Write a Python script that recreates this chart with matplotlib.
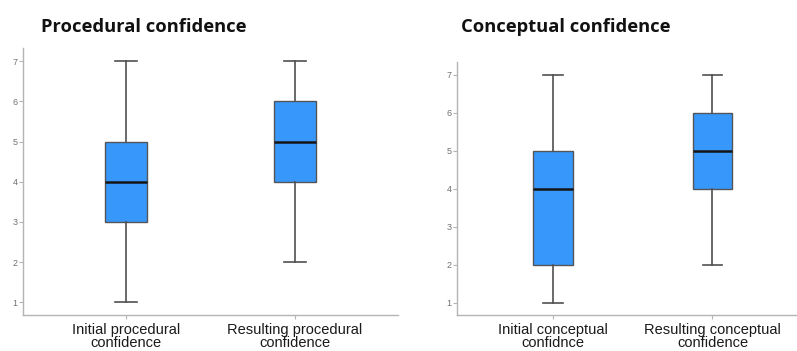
import matplotlib

matplotlib.use("Agg")
import matplotlib.pyplot as plt

# five-number summaries: whisker low, q1, median, q3, whisker high
proc_labels = ["Initial procedural\nconfidence", "Resulting procedural\nconfidence"]
proc_low = [1, 2]
proc_q1 = [3, 4]
proc_med = [4, 5]
proc_q3 = [5, 6]
proc_high = [7, 7]

conc_labels = ["Initial conceptual\nconfidnce", "Resulting conceptual\nconfidence"]
conc_low = [1, 2]
conc_q1 = [2, 4]
conc_med = [4, 5]
conc_q3 = [5, 6]
conc_high = [7, 7]

yticks = [1, 2, 3, 4, 5, 6, 7]

BOX_COLOR = "#3797fb"
AXIS_GRAY = "#b4b4b4"
TEXT_GRAY = "#707070"

W, H = 797, 351


def _stats(low, q1, med, q3, high):
    return [
        {"whislo": a, "q1": b, "med": c, "q3": d, "whishi": e, "fliers": []}
        for a, b, c, d, e in zip(low, q1, med, q3, high)
    ]


def _panel(fig, rect_px, xlim, stats, labels, title, title_xy):
    left, top, right, bottom = rect_px
    ax = fig.add_axes([left / W, 1 - bottom / H, (right - left) / W, (bottom - top) / H])
    ax.bxp(
        stats,
        positions=[1, 2],
        widths=0.25,
        patch_artist=True,
        showfliers=False,
        boxprops=dict(facecolor=BOX_COLOR, edgecolor="#555555", linewidth=1.0),
        medianprops=dict(color="#151515", linewidth=1.8),
        whiskerprops=dict(color="#505050", linewidth=1.2),
        capprops=dict(color="#505050", linewidth=1.2),
        capwidths=0.125,
    )
    ax.set_xlim(*xlim)
    ax.set_ylim(0.68, 7.33)
    ax.set_yticks(yticks)
    ax.set_yticklabels([str(v) for v in yticks], fontsize=6.5, color=TEXT_GRAY, family="Liberation Sans")
    ax.set_xticks([1, 2])
    # the reference crops the second line at the bottom edge; keep it just inside instead
    ax.set_xticklabels(labels, fontsize=10.5, color="#1a1a1a", family="Liberation Sans", linespacing=0.9)
    ax.tick_params(axis="y", length=3, width=0.8, color=AXIS_GRAY, pad=1)
    ax.tick_params(axis="x", length=3, width=0.8, color=AXIS_GRAY, pad=3)
    for side in ("top", "right"):
        ax.spines[side].set_visible(False)
    for side in ("left", "bottom"):
        ax.spines[side].set_color(AXIS_GRAY)
        ax.spines[side].set_linewidth(1.0)
    ax.patch.set_alpha(0)
    fig.text(title_xy[0] / W, 1 - title_xy[1] / H, title, fontsize=13.2, fontweight="bold",
             family="Open Sans", va="baseline", ha="left", color="#111111")
    return ax


fig = plt.figure(figsize=(W / 100, H / 100), dpi=100)

_panel(fig, (23, 48, 398, 315), (0.39, 2.61),
       _stats(proc_low, proc_q1, proc_med, proc_q3, proc_high),
       proc_labels, "Procedural confidence", (41, 32))

_panel(fig, (457, 62, 797, 315), (0.398, 2.53),
       _stats(conc_low, conc_q1, conc_med, conc_q3, conc_high),
       conc_labels, "Conceptual confidence", (461, 32))

fig.savefig("out.png", dpi=100)
